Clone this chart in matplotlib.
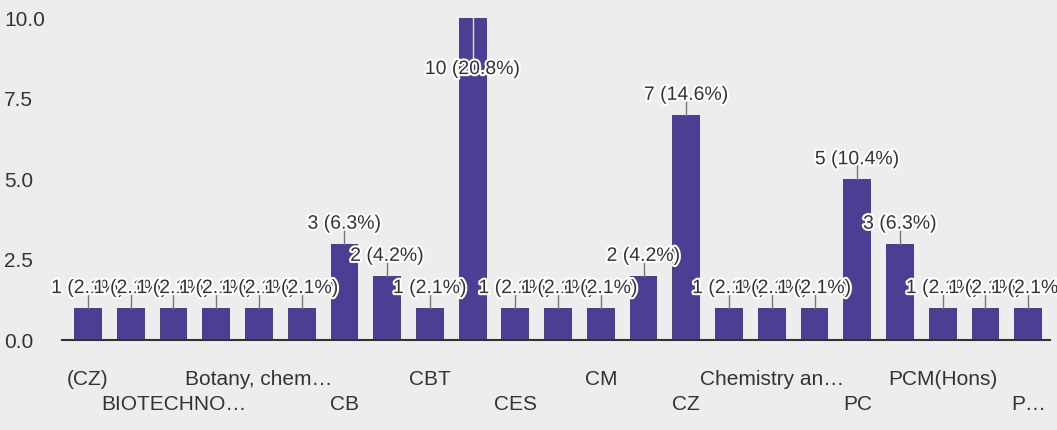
import math
import matplotlib.pyplot as plt
import matplotlib.patheffects as pe

# Responses per course (sorted like the form summary), 48 responses in total
counts = [1, 1, 1, 1, 1, 1, 3, 2, 1, 10, 1, 1, 1, 2, 7, 1, 1, 1, 5, 3, 1, 1, 1]
# only every second category name is printed under the axis
shown_labels = ['(CZ)', 'BIOTECHNO\u2026', 'Botany, chem\u2026', 'CB', 'CBT', 'CES',
                'CM', 'CZ', 'Chemistry an\u2026', 'PC', 'PCM(Hons)', 'P\u2026']
y_ticks = [0.0, 2.5, 5.0, 7.5, 10.0]

bar_color = '#4b3f94'
bg_color = '#ededed'
text_color = '#333333'

plt.rcParams['font.family'] = ['Liberation Sans', 'DejaVu Sans']

fig = plt.figure(figsize=(10.57, 4.30), dpi=100, facecolor=bg_color)
ax = fig.add_axes([0.059, 0.209, 0.934, 0.749])
ax.set_facecolor(bg_color)

total = sum(counts)
x = list(range(len(counts)))
ax.bar(x, counts, width=0.65, color=bar_color, zorder=2)

# value labels with a short leader line; the tallest one is pulled inside the plot
for i, v in enumerate(counts):
    pct = math.floor(1000 * v / total + 0.5) / 10  # round half up, like the form does
    label_y = min(v + 0.6, 8.4)
    if label_y > v:
        ax.plot([i, i], [v, label_y - 0.1], color='#777777', lw=1, zorder=3)
    else:
        ax.plot([i, i], [label_y + 0.3, v], color='#dddddd', lw=1, zorder=3)
    ax.text(i, label_y, f'{v} ({pct:.1f}%)', ha='center', va='center',
            fontsize=14, color=text_color, zorder=4,
            path_effects=[pe.withStroke(linewidth=3, foreground='white')])

# category names on two staggered rows
for k, name in enumerate(shown_labels):
    offset = -28 if k % 2 == 0 else -46
    ax.annotate(name, xy=(2 * k, 0), xycoords=('data', 'axes fraction'),
                xytext=(0, offset), textcoords='offset points',
                ha='center', va='center', fontsize=15, color=text_color)

ax.set_xlim(-0.6, len(counts) - 0.5)
ax.set_ylim(0, 10)
ax.set_xticks([])
ax.set_yticks(y_ticks)
ax.set_yticklabels([f'{t:.1f}' for t in y_ticks], ha='left')
ax.tick_params(axis='y', length=0, pad=42, labelsize=15, labelcolor=text_color)

for side in ['left', 'right', 'top']:
    ax.spines[side].set_visible(False)
ax.spines['bottom'].set_color('#333333')
ax.spines['bottom'].set_linewidth(1.5)
ax.spines['bottom'].set_zorder(3)

plt.savefig('out.png', dpi=100, facecolor=bg_color)
